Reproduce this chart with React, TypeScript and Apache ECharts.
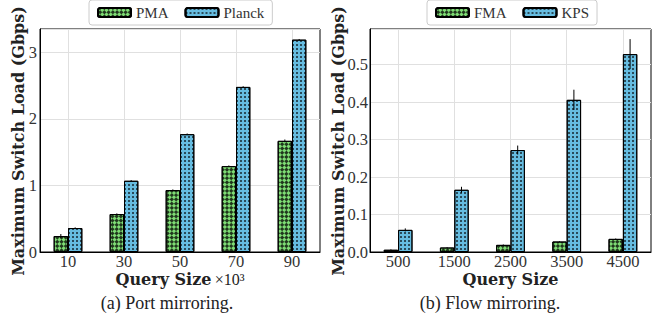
import React, { useEffect, useRef } from "react";
import * as echarts from "echarts";

const leftCategories = ["10", "30", "50", "70", "90"];
const pmaValues = [0.24, 0.57, 0.93, 1.29, 1.67];
const pmaErrors = [0.03, 0.01, 0.01, 0.01, 0.02];
const planckValues = [0.36, 1.07, 1.77, 2.48, 3.19];
const planckErrors = [0.01, 0.01, 0.01, 0.01, 0.01];

const rightCategories = ["500", "1500", "2500", "3500", "4500"];
const fmaValues = [0.006, 0.012, 0.019, 0.028, 0.035];
const fmaErrors = [0.001, 0.001, 0.001, 0.001, 0.001];
const kpsValues = [0.059, 0.166, 0.272, 0.406, 0.528];
const kpsErrors = [0.004, 0.008, 0.012, 0.027, 0.04];

const leftYTicks = [0, 1, 2, 3];
const rightYTicks = [0, 0.1, 0.2, 0.3, 0.4, 0.5];

const SERIF = "Liberation Serif";
const BOLD_SERIF = "DejaVu Serif";
const GREEN = "#7edc74";
const BLUE = "#66bce0";
const BAR_FRAC = 0.256;

const greenDecal = {
  symbol: "rect",
  symbolSize: 1,
  color: "rgba(0,0,0,0.75)",
  dashArrayX: [
    [3, 3],
    [0, 3, 3, 0],
  ],
  dashArrayY: [3, 0],
  rotation: Math.PI / 4,
};
const blueDecal = {
  symbol: "rect",
  symbolSize: 1,
  color: "rgba(0,0,0,0.6)",
  dashArrayX: [1.5, 1.5],
  dashArrayY: [1.5, 1.5],
};

function errData(values: number[], errors: number[], side: number) {
  return values.map((v, i) => [i, v, errors[i], side]);
}

const renderErr = (params: any, api: any) => {
  const idx = api.value(0);
  const v = api.value(1);
  const e = api.value(2);
  const side = api.value(3);
  const c = api.coord([idx, v]);
  const bw = api.size([1, 0])[0];
  const x = c[0] + (side * bw * BAR_FRAC) / 2;
  const top = api.coord([idx, v + e])[1];
  const bot = api.coord([idx, Math.max(0, v - e)])[1];
  return {
    type: "line",
    shape: { x1: x, y1: top, x2: x, y2: bot },
    style: { stroke: "#000", lineWidth: 1 },
  };
};

export default function App() {
  const ref = useRef<HTMLDivElement>(null);
  useEffect(() => {
    document.body.style.margin = "0";
    const chart = echarts.init(ref.current!, null, { renderer: "svg" });
    const axisLabelStyle = { fontFamily: SERIF, fontSize: 16.5, color: "#333" };
    const xName = (withExp: boolean) => ({
      name: withExp ? "{b|Query Size} {r|×10³}" : "{b|Query Size}",
      nameLocation: "middle",
      nameGap: 19,
      nameMoveOverlap: false,
      nameTextStyle: {
        rich: {
          b: { fontFamily: BOLD_SERIF, fontSize: 16, fontWeight: "bold", color: "#222" },
          r: { fontFamily: SERIF, fontSize: 16, color: "#222" },
        },
      },
    });
    const gridLine = { show: true, lineStyle: { color: "#e0e0e0", width: 1 } };
    const legendBase = {
      top: 0,
      itemWidth: 33,
      itemHeight: 9,
      itemGap: 16,
      padding: [5, 8],
      borderColor: "#ccc",
      borderWidth: 1,
      borderRadius: 3,
      textStyle: { fontFamily: SERIF, fontSize: 15, color: "#333" },
    };
    const yName = (x: number) => ({
      type: "text",
      x,
      y: 141,
      rotation: Math.PI / 2,
      style: {
        text: "Maximum Switch Load (Gbps)",
        fontFamily: BOLD_SERIF,
        fontSize: 16,
        fontWeight: "bold",
        fill: "#222",
        align: "center",
        verticalAlign: "middle",
      },
    });
    const caption = (x: number, text: string) => ({
      type: "text",
      x,
      y: 303,
      style: {
        text,
        fontFamily: SERIF,
        fontSize: 18,
        fill: "#222",
        align: "center",
        verticalAlign: "middle",
      },
    });
    const option: any = {
      animation: false,
      backgroundColor: "#fff",
      grid: [
        { left: 40, top: 29, width: 280, height: 223, show: true, borderColor: "#000", borderWidth: 1, backgroundColor: "#fff" },
        { left: 370, top: 29, width: 281, height: 223, show: true, borderColor: "#000", borderWidth: 1, backgroundColor: "#fff" },
      ],
      legend: [
        { ...legendBase, data: ["PMA", "Planck"], left: 89 },
        { ...legendBase, data: ["FMA", "KPS"], left: 427 },
      ],
      xAxis: [
        {
          type: "category",
          gridIndex: 0,
          data: leftCategories,
          axisLine: { lineStyle: { color: "#000" } },
          axisTick: { show: false, alignWithLabel: true },
          splitLine: { ...gridLine, alignWithLabel: true },
          axisLabel: { ...axisLabelStyle, margin: 1 },
          ...xName(true),
        },
        {
          type: "category",
          gridIndex: 1,
          data: rightCategories,
          axisLine: { lineStyle: { color: "#000" } },
          axisTick: { show: false, alignWithLabel: true },
          splitLine: { ...gridLine, alignWithLabel: true },
          axisLabel: { ...axisLabelStyle, margin: 1 },
          ...xName(false),
        },
      ],
      yAxis: [
        {
          type: "value",
          gridIndex: 0,
          min: leftYTicks[0],
          max: 3.35,
          interval: 1,
          axisLine: { show: true, lineStyle: { color: "#000" } },
          axisTick: { show: false },
          splitLine: gridLine,
          axisLabel: {
            ...axisLabelStyle,
            margin: 3,
            formatter: (v: number) => (leftYTicks.includes(v) ? String(v) : ""),
          },
        },
        {
          type: "value",
          gridIndex: 1,
          min: rightYTicks[0],
          max: 0.595,
          interval: 0.1,
          axisLine: { show: true, lineStyle: { color: "#000" } },
          axisTick: { show: false },
          splitLine: gridLine,
          axisLabel: {
            ...axisLabelStyle,
            margin: 2,
            formatter: (v: number) => (v > 0.55 ? "" : v.toFixed(1)),
          },
        },
      ],
      series: [
        {
          name: "PMA",
          type: "bar",
          xAxisIndex: 0,
          yAxisIndex: 0,
          data: pmaValues,
          barWidth: BAR_FRAC * 100 + "%",
          barGap: "0%",
          itemStyle: { color: GREEN, borderColor: "#000", borderWidth: 1, decal: greenDecal },
        },
        {
          name: "Planck",
          type: "bar",
          xAxisIndex: 0,
          yAxisIndex: 0,
          data: planckValues,
          barWidth: BAR_FRAC * 100 + "%",
          barGap: "0%",
          itemStyle: { color: BLUE, borderColor: "#000", borderWidth: 1, decal: blueDecal },
        },
        {
          name: "FMA",
          type: "bar",
          xAxisIndex: 1,
          yAxisIndex: 1,
          data: fmaValues,
          barWidth: BAR_FRAC * 100 + "%",
          barGap: "0%",
          itemStyle: { color: GREEN, borderColor: "#000", borderWidth: 1, decal: greenDecal },
        },
        {
          name: "KPS",
          type: "bar",
          xAxisIndex: 1,
          yAxisIndex: 1,
          data: kpsValues,
          barWidth: BAR_FRAC * 100 + "%",
          barGap: "0%",
          itemStyle: { color: BLUE, borderColor: "#000", borderWidth: 1, decal: blueDecal },
        },
        {
          type: "custom",
          xAxisIndex: 0,
          yAxisIndex: 0,
          renderItem: renderErr,
          encode: { x: 0, y: 1 },
          data: [...errData(pmaValues, pmaErrors, -1), ...errData(planckValues, planckErrors, 1)],
          z: 5,
        },
        {
          type: "custom",
          xAxisIndex: 1,
          yAxisIndex: 1,
          renderItem: renderErr,
          encode: { x: 0, y: 1 },
          data: [...errData(fmaValues, fmaErrors, -1), ...errData(kpsValues, kpsErrors, 1)],
          z: 5,
        },
      ],
      graphic: [
        yName(18),
        yName(338),
        caption(167, "(a) Port mirroring."),
        caption(490, "(b) Flow mirroring."),
      ],
    };
    chart.setOption(option);
    return () => chart.dispose();
  }, []);
  return <div ref={ref} style={{ width: 659, height: 322 }} />;
}
